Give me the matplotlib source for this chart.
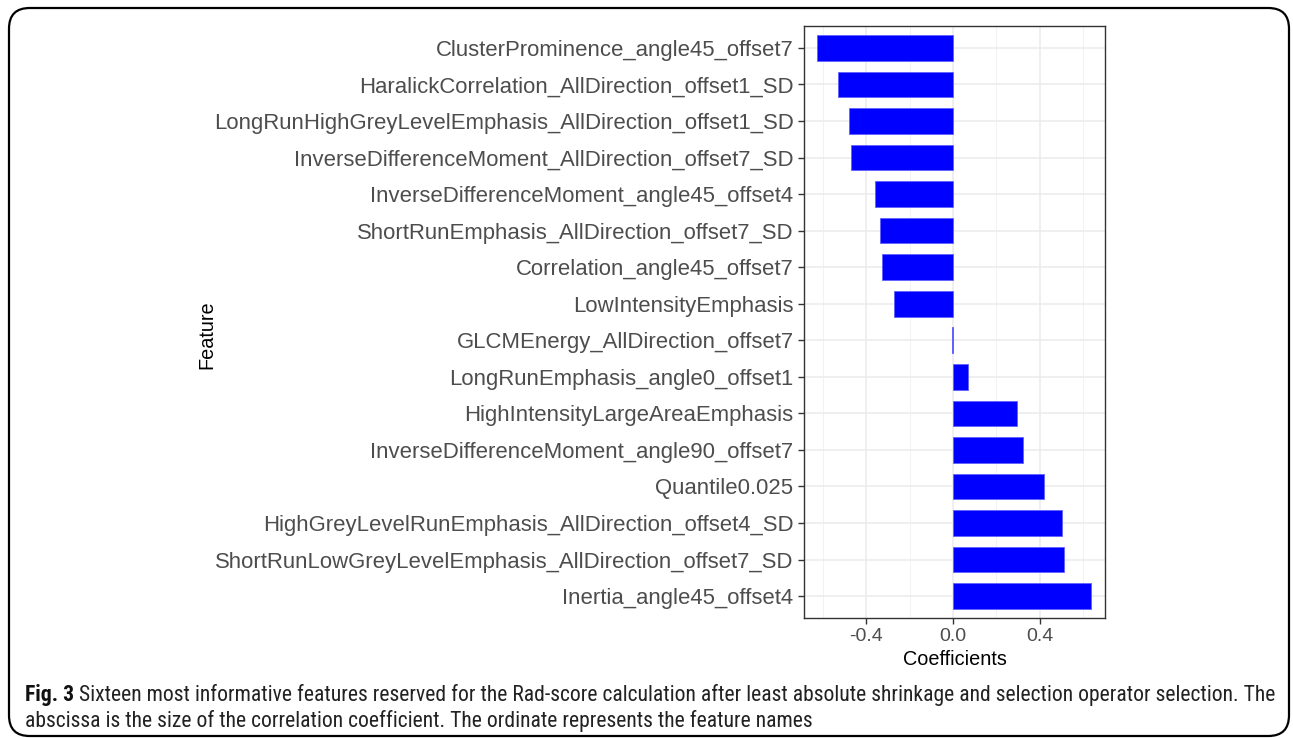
import matplotlib
matplotlib.use("Agg")
import matplotlib.pyplot as plt
from matplotlib import font_manager
from matplotlib.patches import FancyBboxPatch

plt.rcParams['font.family'] = ['Liberation Sans', 'DejaVu Sans']

# Features listed top to bottom as in the figure
features = [
    "ClusterProminence_angle45_offset7",
    "HaralickCorrelation_AllDirection_offset1_SD",
    "LongRunHighGreyLevelEmphasis_AllDirection_offset1_SD",
    "InverseDifferenceMoment_AllDirection_offset7_SD",
    "InverseDifferenceMoment_angle45_offset4",
    "ShortRunEmphasis_AllDirection_offset7_SD",
    "Correlation_angle45_offset7",
    "LowIntensityEmphasis",
    "GLCMEnergy_AllDirection_offset7",
    "LongRunEmphasis_angle0_offset1",
    "HighIntensityLargeAreaEmphasis",
    "InverseDifferenceMoment_angle90_offset7",
    "Quantile0.025",
    "HighGreyLevelRunEmphasis_AllDirection_offset4_SD",
    "ShortRunLowGreyLevelEmphasis_AllDirection_offset7_SD",
    "Inertia_angle45_offset4",
]
coefs = [-0.629, -0.532, -0.481, -0.472, -0.360, -0.337, -0.328, -0.271,
         -0.004, 0.071, 0.297, 0.322, 0.420, 0.504, 0.512, 0.637]

xticks = [-0.4, 0.0, 0.4]
xtick_labels = ["-0.4", "0.0", "0.4"]

cap_bold = "Fig. 3"
cap_line1 = ("Sixteen most informative features reserved for the Rad-score calculation after "
             "least absolute shrinkage and selection operator selection. The")
cap_line2 = "abscissa is the size of the correlation coefficient. The ordinate represents the feature names"

W, H = 1293, 738
fig = plt.figure(figsize=(W / 100, H / 100), dpi=100)

# rounded frame around the whole figure
frame = FancyBboxPatch((9 / W, 2 / H), 1280 / W, 728 / H,
                       boxstyle="round,pad=0,rounding_size=0.016",
                       transform=fig.transFigure, fill=False,
                       edgecolor="black", linewidth=1.6,
                       mutation_aspect=W / H)
fig.patches.append(frame)

ax = fig.add_axes([804 / W, 120 / H, 301 / W, 592 / H])
ypos = list(range(len(features)))[::-1]
ax.barh(ypos, coefs, height=0.7, color="#0000FF", edgecolor="#6060FF",
        linewidth=0.6, zorder=3)

ax.set_xlim(-0.688, 0.701)
ax.set_ylim(-0.6, len(features) - 0.4)
ax.set_yticks(ypos)
ax.set_yticklabels(features)
ax.set_xticks(xticks)
ax.set_xticklabels(xtick_labels)
ax.set_xticks([-0.6, -0.2, 0.2, 0.6], minor=True)
ax.grid(True, which="major", color="#EBEBEB", linewidth=1.1, zorder=0)
ax.grid(True, which="minor", axis="x", color="#F2F2F2", linewidth=0.7, zorder=0)
ax.set_axisbelow(True)
for s in ax.spines.values():
    s.set_color("#333333")
    s.set_linewidth(1.0)
ax.tick_params(axis="both", which="major", labelsize=15.9, colors="#333333",
               labelcolor="#4D4D4D", length=4, width=1)
ax.tick_params(axis="x", which="minor", length=0)
ax.tick_params(axis="x", labelsize=14, pad=3)

ax.set_xlabel("Coefficients", fontsize=14.3, labelpad=4)
fig.text(207 / W, (H - 335) / H, "Feature", rotation=90, fontsize=14.3,
         ha="center", va="center")

# caption, in a narrow sans face if one is installed
installed = {f.name for f in font_manager.fontManager.ttflist}
cap_font = "Open Sans"
for cand in ["Liberation Sans Narrow", "Roboto Condensed", "Open Sans Condensed", "Roboto"]:
    if cand in installed:
        cap_font = cand
        break
renderer = fig.canvas.get_renderer()

tb = fig.text(25 / W, (H - 695) / H, cap_bold, fontsize=14, family=cap_font,
              fontweight="bold", ha="left", va="center", color="#111111")
bw = tb.get_window_extent(renderer).width
t1 = fig.text((25 + bw + 5) / W, (H - 695) / H, cap_line1, fontsize=14,
              family=cap_font, ha="left", va="center", color="#222222")
# fit line 1 to the width it takes in the figure
target = 1277 - (25 + bw + 5)
size = 14 * target / t1.get_window_extent(renderer).width
t1.set_fontsize(size)
tb.set_fontsize(size)
bw = tb.get_window_extent(renderer).width
t1.set_x((25 + bw + 5) / W)
fig.text(25 / W, (H - 721) / H, cap_line2, fontsize=size, family=cap_font,
         ha="left", va="center", color="#222222")

fig.savefig("out.png", dpi=100)
